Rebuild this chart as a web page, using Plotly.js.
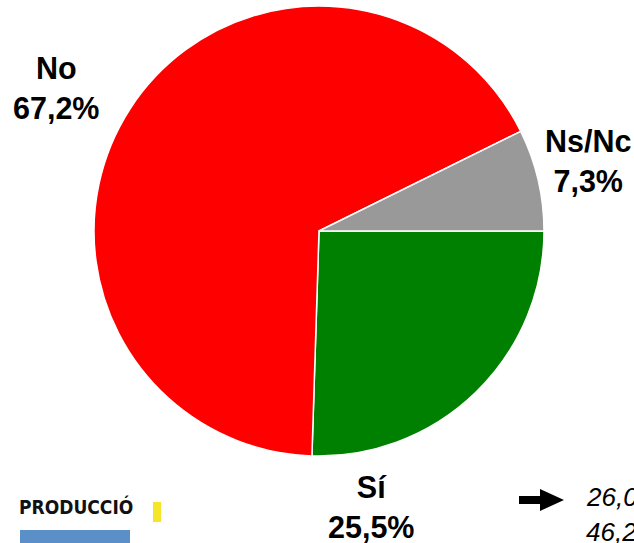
<!DOCTYPE html>
<html>
<head>
<meta charset="utf-8">
<script src="https://cdn.plot.ly/plotly-3.0.1.min.js"></script>
<style>html,body{margin:0;padding:0;background:#fff;}#chart{width:634px;height:543px;}</style>
</head>
<body>
<div id="chart"></div>
<script>
const categories = ["Sí", "No", "Ns/Nc"];
const values = [25.5, 67.2, 7.3];
const colors = ["#008000", "#FF0000", "#999999"];
const labelPos = [[371, 507], [56, 88], [588, 161]];

const W = 634, H = 543;
const fmt = v => v.toFixed(1).replace(".", ",") + "%";

const trace = {
  type: "pie",
  labels: categories,
  values: values,
  sort: false,
  direction: "clockwise",
  rotation: 90,
  marker: { colors: colors, line: { color: "#ffffff", width: 1.5 } },
  textinfo: "none",
  hoverinfo: "label+percent",
  domain: { x: [(319 - 225) / W, (319 + 225) / W], y: [(H - 456) / H, (H - 6) / H] },
  showlegend: false
};

const annotations = categories.map((c, i) => ({
  xref: "paper", yref: "paper",
  x: labelPos[i][0] / W, y: 1 - labelPos[i][1] / H,
  xanchor: "center", yanchor: "middle",
  text: "<b>" + c + "<br>" + fmt(values[i]) + "</b>",
  showarrow: false,
  font: { family: "Liberation Sans, Arial, sans-serif", size: 30.5, color: "#000" }
}));

annotations.push({
  xref: "paper", yref: "paper", x: 584 / W, y: 1 - 497 / H,
  xanchor: "left", yanchor: "middle", showarrow: false,
  text: "<i>26,0</i>",
  font: { family: "Liberation Sans, Arial, sans-serif", size: 26, color: "#000" }
});
annotations.push({
  xref: "paper", yref: "paper", x: 584 / W, y: 1 - 532 / H,
  xanchor: "left", yanchor: "middle", showarrow: false,
  text: "<i>46,2</i>",
  font: { family: "Liberation Sans, Arial, sans-serif", size: 26, color: "#000" }
});
annotations.push({
  xref: "paper", yref: "paper", x: 76 / W, y: 1 - 506 / H,
  xanchor: "center", yanchor: "middle", showarrow: false,
  text: "<b>PRODUCCIÓ</b>",
  font: { family: "DejaVu Sans Condensed, sans-serif", size: 19, color: "#111" }
});

const px = (x) => x / W, py = (y) => 1 - y / H;
const shapes = [
  { type: "path", xref: "paper", yref: "paper",
    path: `M ${px(519)} ${py(496)} L ${px(540)} ${py(496)} L ${px(540)} ${py(489)} L ${px(564)} ${py(500)} L ${px(540)} ${py(511)} L ${px(540)} ${py(504)} L ${px(519)} ${py(504)} Z`,
    fillcolor: "#000", line: { width: 0 } },
  { type: "rect", xref: "paper", yref: "paper", x0: px(20), x1: px(130), y0: py(543), y1: py(530),
    fillcolor: "#5b8fc7", line: { width: 0 } },
  { type: "rect", xref: "paper", yref: "paper", x0: px(153), x1: px(161), y0: py(522), y1: py(502),
    fillcolor: "#f5e627", line: { width: 0 } }
];

const layout = {
  width: W, height: H,
  margin: { l: 0, r: 0, t: 0, b: 0 },
  paper_bgcolor: "#ffffff",
  annotations: annotations,
  shapes: shapes
};

Plotly.newPlot("chart", [trace], layout, { displayModeBar: false, staticPlot: true });
</script>
</body>
</html>
